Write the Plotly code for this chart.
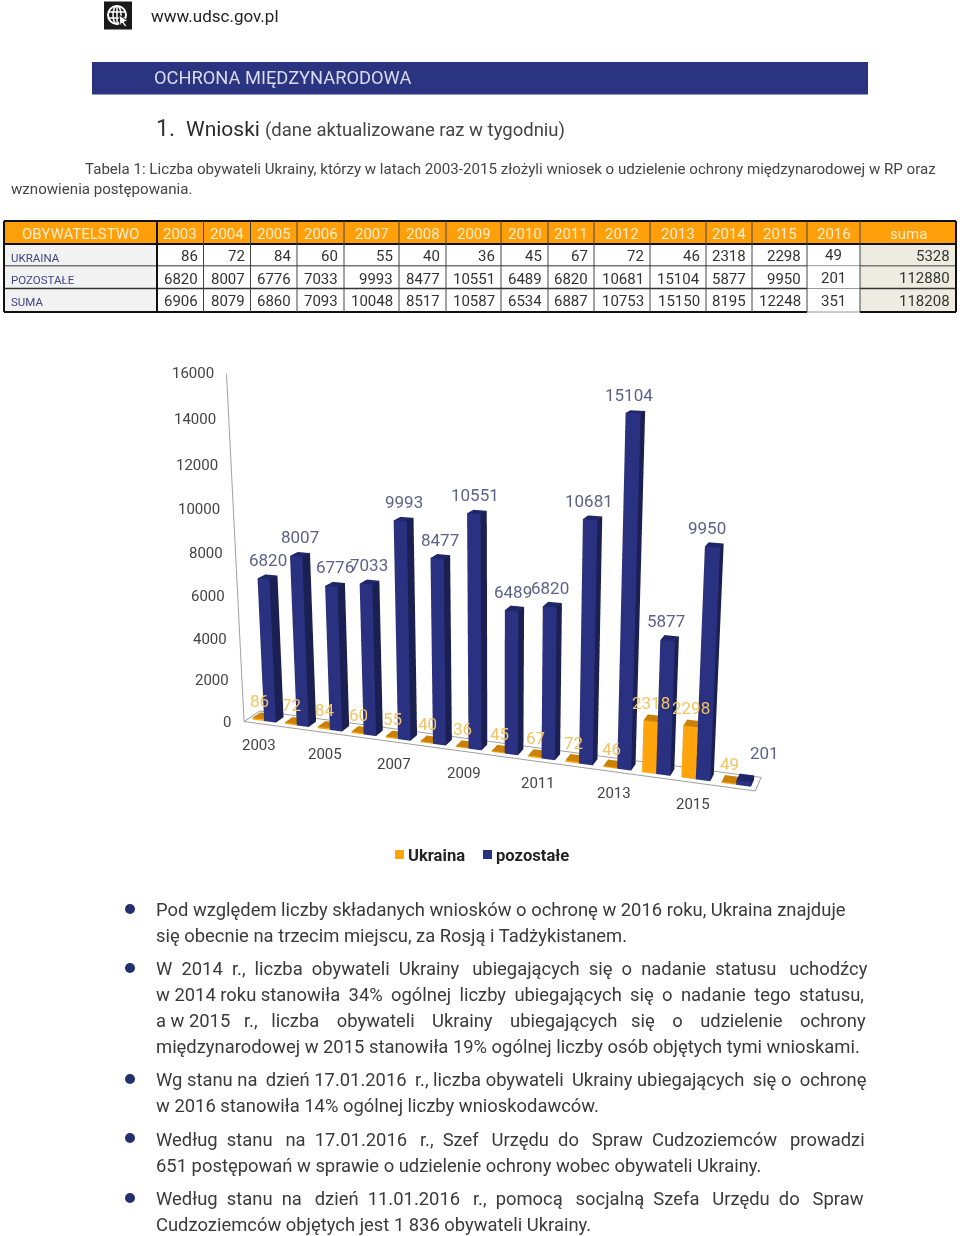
import numpy as np
import plotly.graph_objects as go

years = list(range(2003, 2017))
ukraina = [86, 72, 84, 60, 55, 40, 36, 45, 67, 72, 46, 2318, 2298, 49]
pozostale = [6820, 8007, 6776, 7033, 9993, 8477, 10551, 6489, 6820, 10681, 15104, 5877, 9950, 201]
suma = [6906, 8079, 6860, 7093, 10048, 8517, 10587, 6534, 6887, 10753, 15150, 8195, 12248, 351]
z_ticks = [0, 2000, 4000, 6000, 8000, 10000, 12000, 14000, 16000]
x_tick_years = [2003, 2005, 2007, 2009, 2011, 2013, 2015]
row_names = ["UKRAINA", "POZOSTAŁE", "SUMA"]
row_totals = [5328, 112880, 118208]
col_edges = [4, 157, 203.5, 250.5, 297, 344, 399, 446, 501, 548, 594, 650, 706, 752, 807, 860, 956]
navy_label_dx = [0, -.5, 0, -.5, 0, -.5, -1.5, -1.5, -2, -3.5, -6, -3.5, -7, 19]

W, H = 960, 1236
SC_TOP, SC_BOT, SC_L, SC_R = 0, 1170, 38, 960
AX, AY = 1.4733, 0.0930
EYE = (1.2471, -3.4019, 0.9477)
VIEW = (-0.3584, 1.0, -0.2885)

def px(x): return x / W
def py(y): return 1 - y / H

def cuboids(x0s, x1s, y0, y1, tops, colors):
    X, Y, Z, I, J, K, FC = [], [], [], [], [], [], []
    tri = [((0,1,5),'f'),((0,5,4),'f'),((1,2,6),'s'),((1,6,5),'s'),((2,3,7),'f'),((2,7,6),'f'),
           ((3,0,4),'s'),((3,4,7),'s'),((4,5,6),'t'),((4,6,7),'t'),((0,1,2),'t'),((0,2,3),'t')]
    for a, b, t in zip(x0s, x1s, tops):
        n = len(X)
        X += [a,b,b,a,a,b,b,a]; Y += [y0,y0,y1,y1,y0,y0,y1,y1]; Z += [0,0,0,0,t,t,t,t]
        for (i,j,k),c in tri:
            I.append(n+i); J.append(n+j); K.append(n+k); FC.append(colors[c])
    return go.Mesh3d(x=X,y=Y,z=Z,i=I,j=J,k=K,facecolor=FC,flatshading=True,hoverinfo="skip",
                     lighting=dict(ambient=1,diffuse=0,specular=0,fresnel=0,roughness=1))

idx = np.arange(len(years))
fig = go.Figure()
fig.add_trace(cuboids(idx+.14, idx+.5, .25, .75, ukraina, dict(f="#ffa40a", s="#c98207", t="#c98207")))
fig.add_trace(cuboids(idx+.5, idx+.86, .25, .75, pozostale, dict(f="#293180", s="#1b2052", t="#20266a")))
lc = "#a0a0a0"
for xs,ys,zs in [([0,14,14,0,0],[0,0,1,1,0],[0,0,0,0,0]),([0,0],[0,0],[0,16000])]:
    fig.add_trace(go.Scatter3d(x=xs,y=ys,z=zs,mode="lines",line=dict(color=lc,width=2),hoverinfo="skip",showlegend=False))

anns, shapes = [], []
def txt(x,y,t,size,color="#333",anchor="left",family="Roboto"):
    anns.append(dict(x=px(x),y=py(y),xref="paper",yref="paper",text=t,showarrow=False,xanchor=anchor,yanchor="middle",
                     font=dict(family=family,size=size,color=color),borderpad=0))
def rect(x0,y0,x1,y1,fill):
    shapes.append(dict(type="rect",xref="paper",yref="paper",x0=px(x0),x1=px(x1),y0=py(y0),y1=py(y1),fillcolor=fill,line_width=0))
def hv(a,b,c,d,color,width):
    shapes.append(dict(type="line",xref="paper",yref="paper",x0=px(a),x1=px(c),y0=py(b),y1=py(d),line=dict(color=color,width=width)))

# table
T_Y = [221, 244, 265.7, 288.5, 312]
header = ["OBYWATELSTWO"] + [str(y) for y in years] + ["suma"]
rows = [ukraina, pozostale, suma]
rect(col_edges[0],T_Y[0],col_edges[-1],T_Y[1],"#ff9f0a")
rect(col_edges[0],T_Y[1],col_edges[1],T_Y[4],"#f2f2f2")
rect(col_edges[-2],T_Y[1],col_edges[-1],T_Y[4],"#eeece1")
for k,h_ in enumerate(header):
    xc=(col_edges[k]+col_edges[k+1])/2
    txt(xc,234,h_,15,"#fdeecf","center")
for r,(name,vals,tot) in enumerate(zip(row_names,rows,row_totals)):
    ytab=[255.7,278.5,300.7][r]
    txt(10,[257.5,280,302][r],name,11.5,"#3f4585")
    for k,v in enumerate(vals[:-1]):
        txt(col_edges[k+2]-5,ytab,str(v),15,"#333","right")
    txt((col_edges[14]+col_edges[15])/2,[255,277.5,301][r],str(vals[-1]),15,"#333","center")
    txt(950.5,[256,277.5,301][r],str(tot),15,"#333","right")
for y,c,wd in [(T_Y[0],"#111",2),(T_Y[1],"#111",2),(T_Y[2],"#777",1.5),(T_Y[3],"#333",1.5),(T_Y[4],"#111",2)]:
    hv(col_edges[0],y,col_edges[14],y,c,wd); hv(col_edges[15],y,col_edges[16],y,c,wd)
    hv(col_edges[14],y,col_edges[15],y,"#999" if y in T_Y[2:] else c,1 if y in T_Y[2:] else wd)
for k,x in enumerate(col_edges):
    thick = k in (0,1,16)
    hv(x,T_Y[0],x,T_Y[4],"#111" if thick else "#444",2 if thick else 1)

rect(104,1.5,132,29.5,"#1a1a1a")
shapes.append(dict(type="circle",xref="paper",yref="paper",x0=px(108),x1=px(126),y0=py(24),y1=py(6),line=dict(color="white",width=2)))
shapes.append(dict(type="circle",xref="paper",yref="paper",x0=px(113),x1=px(121),y0=py(24),y1=py(6),line=dict(color="white",width=1.5)))
for a,b,c,d in [(108,12,126,12),(108,18,126,18),(117,6,117,24)]:
    hv(a,b,c,d,"white",1.5)
shapes.append(dict(type="path",xref="paper",yref="paper",path=f"M {px(119)} {py(15)} L {px(128)} {py(21)} L {px(124)} {py(22)} L {px(127)} {py(26)} L {px(125)} {py(27)} L {px(122)} {py(23)} L {px(120)} {py(26)} Z",fillcolor="white",line=dict(color="#1a1a1a",width=1)))
txt(150,16,"www.udsc.gov.pl",17,"#222")
rect(92,62,868,94.5,"#2a3480")
txt(153,78,"OCHRONA MIĘDZYNARODOWA",18.3,"#d9dcf0")
txt(155,129,"1.",23,"#333")
txt(185,129,"Wnioski",21,"#2a2a2a")
txt(264,130,"(dane aktualizowane raz w tygodniu)",18.5,"#444")
txt(84,169,"Tabela 1: Liczba obywateli Ukrainy, którzy w latach 2003-2015 złożyli wniosek o udzielenie ochrony międzynarodowej w RP oraz",15.1,"#444")
txt(10,188.5,"wznowienia postępowania.",15.1,"#444")

rect(395,850,404,859,"#ffa40a")
txt(407,855,"<b>Ukraina</b>",16.6,"#222")
rect(483,850,492,859,"#293180")
txt(495,855,"<b>pozostałe</b>",16.6,"#222")

for y in [909,968,1079,1138,1198]:
    shapes.append(dict(type="circle",xref="paper",yref="paper",x0=px(125),x1=px(135),y0=py(y+5),y1=py(y-5),fillcolor="#23306e",line_width=0))
NB, TH = "\u00a0", "\u2009"
def just(s, nb=1, thin=0, skip=0):
    w = s.split(" ")
    gaps = len(w) - 1
    out = w[0]
    acc = 0.0
    for g in range(gaps):
        if g < skip:
            out += NB + w[g+1]; continue
        acc += thin / max(gaps - skip, 1)
        extra = ""
        if acc >= 0.999:
            extra = TH; acc -= 1
        out += NB*nb + extra + w[g+1]
    return out
lines = [
 (909.5,"Pod względem liczby składanych wniosków o ochronę w 2016 roku, Ukraina znajduje"),
 (935.5,"się obecnie na trzecim miejscu, za Rosją i Tadżykistanem."),
 (968.5,just("W 2014 r., liczba obywateli Ukrainy ubiegających się o nadanie statusu uchodźcy",2,2)),
 (994.5,just("w 2014 roku stanowiła 34% ogólnej liczby ubiegających się o nadanie tego statusu,",1,9,2)),
 (1020.5,"a"+NB+"w"+NB+"2015"+NB*3+just("r., liczba obywateli Ukrainy ubiegających się o udzielenie ochrony",3,6)),
 (1046.5,"międzynarodowej w 2015 stanowiła 19% ogólnej liczby osób objętych tymi wnioskami."),
 (1079.5,just("Wg stanu na dzień 17.01.2016 r., liczba obywateli Ukrainy ubiegających się o ochronę",1,5)),
 (1105.5,"w 2016 stanowiła 14% ogólnej liczby wnioskodawców."),
 (1139.5,just("Według stanu na 17.01.2016 r., Szef Urzędu do Spraw Cudzoziemców prowadzi",2,5)),
 (1165.5,"651 postępowań w sprawie o udzielenie ochrony wobec obywateli Ukrainy."),
 (1198.5,just("Według stanu na dzień 11.01.2016 r., pomocą socjalną Szefa Urzędu do Spraw",2,5)),
 (1224.5,"Cudzoziemców objętych jest 1 836 obywateli Ukrainy."),
]
for y,t in lines:
    txt(155,y,t,18.4,"#3a3a3a")

sa = []
def sann(x,y,z,t,size,color,anchor="center",xs=0,ys=0):
    sa.append(dict(x=x,y=y,z=z,text=t,showarrow=False,xanchor=anchor,yanchor="middle",xshift=xs,yshift=ys,
                   font=dict(family="Roboto",size=size,color=color)))
for z in z_ticks:
    sann(0,0,z,str(z),15,"#444","right",xs=-11)
for yr in x_tick_years:
    sann(yr-2003+.5,0,0,str(yr),15,"#444","center",xs=-1,ys=-21.5)
for i,(u,v) in enumerate(zip(ukraina,pozostale)):
    sann(i+.32,.5,u,str(u),17,"#f4c362","center",xs=-3+i*.15,ys=15)
    sann(i+.68,.5,v,str(v),17,"#5d6289","center",xs=navy_label_dx[i],ys=17 if i<13 else 25)

hidden = dict(visible=False,showgrid=False,zeroline=False,showticklabels=False,showspikes=False)
center = [e+d for e,d in zip(EYE,VIEW)]
fig.update_layout(
    width=W,height=H,margin=dict(l=0,r=0,t=0,b=0),paper_bgcolor="white",showlegend=False,
    annotations=anns,shapes=shapes,
    scene=dict(domain=dict(x=[px(SC_L),px(SC_R)],y=[py(SC_BOT),py(SC_TOP)]),
        xaxis=dict(range=[0,14],**hidden),yaxis=dict(range=[0,1],**hidden),zaxis=dict(range=[0,16000],**hidden),
        aspectmode="manual",aspectratio=dict(x=AX,y=AY,z=1),
        camera=dict(eye=dict(x=EYE[0],y=EYE[1],z=EYE[2]),center=dict(x=center[0],y=center[1],z=center[2]),up=dict(x=0,y=0,z=1),projection=dict(type="perspective")),
        annotations=sa,bgcolor="rgba(0,0,0,0)"))
fig.write_html("out.html",config=dict(displayModeBar=False),post_script="document.body.style.margin='0';document.body.style.overflow='hidden';")
